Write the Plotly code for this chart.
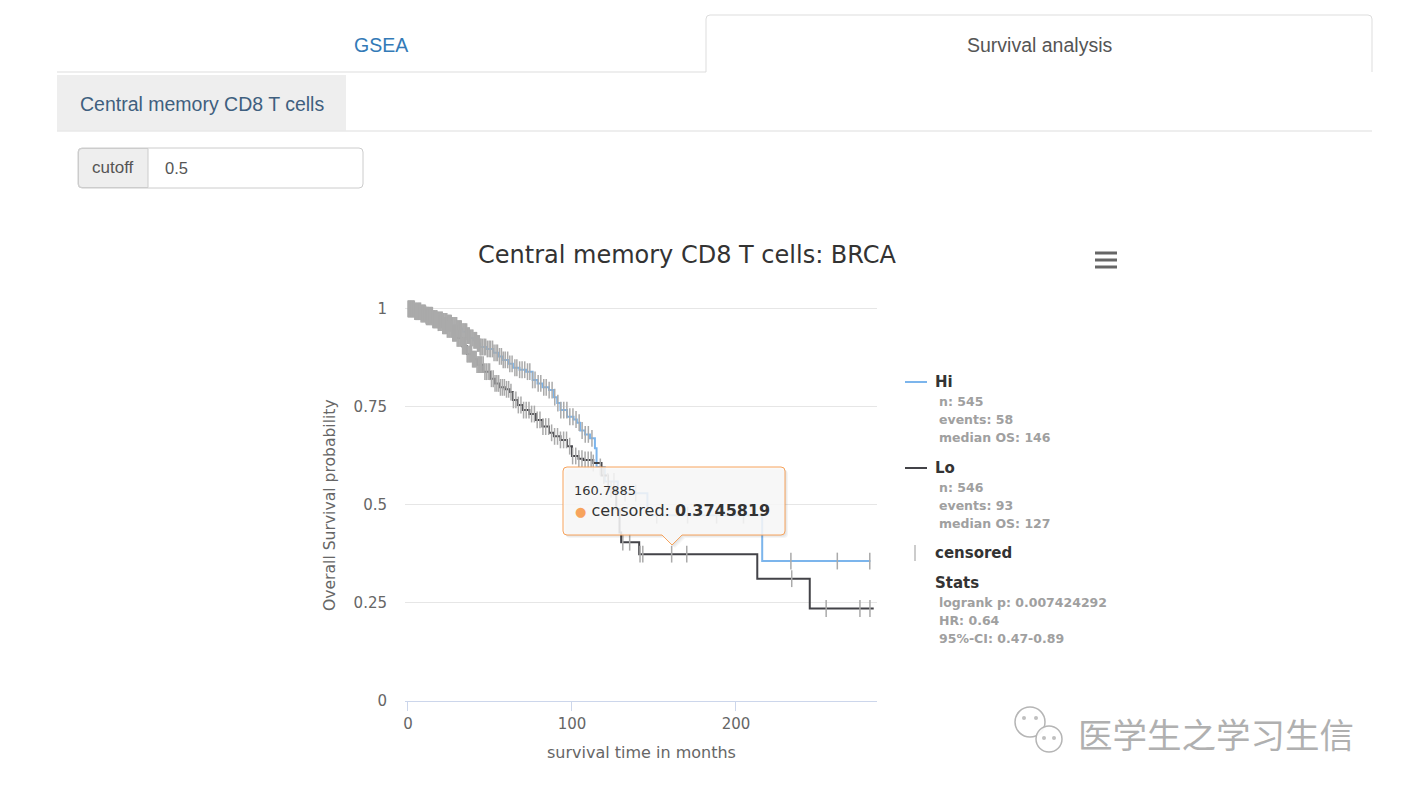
import plotly.graph_objects as go

# ---------------- data ----------------
hi_time = [0, 4, 8, 11, 15, 18, 21, 24, 27, 30, 33, 36, 38, 40, 42, 44, 48, 52, 55, 58, 61, 64,
           68, 72, 76, 79, 82, 86, 89, 91, 93, 97, 101, 103, 105, 108, 111, 114, 115, 120, 128,
           146, 216, 282]
hi_surv = [1.0, 0.995, 0.99, 0.984, 0.976, 0.972, 0.968, 0.964, 0.958, 0.95, 0.942, 0.932, 0.926,
           0.92, 0.912, 0.903, 0.898, 0.888, 0.879, 0.87, 0.86, 0.85, 0.845, 0.84, 0.819, 0.81,
           0.80, 0.793, 0.775, 0.76, 0.742, 0.725, 0.718, 0.71, 0.69, 0.68, 0.67, 0.645, 0.597,
           0.56, 0.53, 0.474, 0.357, 0.357]

lo_time = [0, 4, 8, 11, 15, 18, 21, 24, 27, 30, 33, 36, 39, 42, 46, 50, 53, 56, 59, 62, 64, 67,
           70, 74, 78, 82, 86, 89, 93, 97, 100, 104, 107, 113, 118, 122, 127, 129, 130, 141, 213,
           245, 284]
lo_surv = [1.0, 0.993, 0.987, 0.98, 0.972, 0.965, 0.957, 0.948, 0.938, 0.925, 0.905, 0.885,
           0.872, 0.858, 0.84, 0.822, 0.81, 0.80, 0.795, 0.788, 0.768, 0.755, 0.742, 0.732, 0.717,
           0.70, 0.684, 0.675, 0.666, 0.65, 0.625, 0.618, 0.615, 0.607, 0.575, 0.54, 0.49, 0.43,
           0.405, 0.3745819, 0.312, 0.236, 0.236]

hi_censored_time = [0.1, 0.6, 1.2, 1.7, 2.3, 2.8, 3.3, 3.9, 4.4, 5.0, 5.5, 6.1, 6.6, 7.2, 7.7,
                    8.3, 8.8, 9.4, 9.9, 10.5, 11.0, 11.6, 12.1, 12.7, 13.2, 13.8, 14.3, 14.9,
                    15.4, 16.0, 16.5, 17.1, 17.6, 18.2, 18.7, 19.3, 19.8, 20.4, 20.9, 21.5, 22.0,
                    22.6, 23.1, 23.7, 24.2, 24.8, 25.3, 25.9, 26.4, 27.0, 27.5, 28.1, 28.6, 29.2,
                    29.7, 30.3, 30.8, 31.4, 31.9, 32.5, 33.0, 33.6, 34.1, 34.7, 35.2, 35.8, 36.3,
                    36.9, 37.4, 38.0, 38.5, 39.1, 39.6, 40.2, 40.7, 41.3, 41.8, 42.4, 42.9, 43.5,
                    44.0, 44.6, 45.5, 46.5, 47.4, 48.4, 49.5, 50.4, 51.6, 52.5, 53.7, 54.6, 55.8,
                    57.0, 58.1, 59.3, 60.8, 62.1, 63.5, 65.2, 66.4, 68.1, 69.6, 71.2, 72.9, 74.3,
                    76.0, 77.5, 79.4, 81.0, 82.8, 84.3, 86.1, 87.9, 89.5, 91.4, 93.2, 95.0, 96.9,
                    98.7, 100.6, 102.5, 104.4, 106.2, 108.1, 110.0, 112.2, 117.3, 121.8, 125.6,
                    132.4, 138.9, 151.7, 170.5, 188.2, 204.6, 233.5, 261.8, 281.6]
lo_censored_time = [0.3, 0.9, 1.4, 2.0, 2.5, 3.1, 3.6, 4.2, 4.7, 5.3, 5.8, 6.4, 6.9, 7.5, 8.0,
                    8.6, 9.1, 9.7, 10.2, 10.8, 11.3, 11.9, 12.4, 13.0, 13.5, 14.1, 14.6, 15.2,
                    15.7, 16.3, 16.8, 17.4, 17.9, 18.5, 19.0, 19.6, 20.1, 20.7, 21.2, 21.8, 22.3,
                    22.9, 23.4, 24.0, 24.5, 25.1, 25.6, 26.2, 26.7, 27.3, 27.8, 28.4, 28.9, 29.5,
                    30.0, 30.6, 31.1, 31.7, 32.2, 32.8, 33.3, 33.9, 34.4, 35.0, 35.5, 36.1, 36.6,
                    37.2, 37.7, 38.3, 38.8, 39.4, 39.9, 40.5, 41.0, 41.6, 42.1, 42.7, 43.2, 43.8,
                    44.3, 45.0, 45.9, 46.9, 47.8, 48.9, 49.8, 50.9, 52.0, 53.1, 54.2, 55.3, 56.4,
                    57.6, 58.8, 60.1, 61.4, 62.8, 64.3, 65.8, 67.3, 68.9, 70.5, 72.1, 73.8, 75.4,
                    77.1, 78.8, 80.5, 82.3, 84.0, 85.8, 87.6, 89.4, 91.2, 93.0, 94.9, 96.7, 98.6,
                    100.4, 102.3, 104.2, 106.1, 108.0, 109.9, 111.7, 113.0, 119.4, 123.8, 131.0,
                    135.2, 141.5, 143.2, 160.7885, 170.0, 234.0, 255.0, 275.6, 281.7]

x_ticks = [0, 100, 200]
y_ticks = [0, 0.25, 0.5, 0.75, 1]
y_ticktext = ["0", "0.25", "0.5", "0.75", "1"]

groups = ["Hi", "Lo"]
group_n = [545, 546]
group_events = [58, 93]
group_median = [146, 127]
stats_lines = ["logrank p: 0.007424292", "HR: 0.64", "95%-CI: 0.47-0.89"]

tooltip_x = "160.7885"
tooltip_val = "0.3745819"


def surv_at(times, survs, t):
    v = survs[0]
    for ti, si in zip(times, survs):
        if ti <= t:
            v = si
    return v


cens_x = hi_censored_time + lo_censored_time
cens_y = [surv_at(hi_time, hi_surv, t) for t in hi_censored_time] + \
         [surv_at(lo_time, lo_surv, t) for t in lo_censored_time]

# ---------------- figure ----------------
W, H = 1401, 794


def PX(x):
    return x / W


def PY(y):
    return 1 - y / H


FONT = "DejaVu Sans"
UI = "Liberation Sans"

fig = go.Figure()
fig.add_trace(go.Scatter(x=hi_time, y=hi_surv, mode="lines", name="Hi",
                         line=dict(color="#7cb5ec", width=2, shape="hv")))
fig.add_trace(go.Scatter(x=lo_time, y=lo_surv, mode="lines", name="Lo",
                         line=dict(color="#434348", width=2, shape="hv")))
fig.add_trace(go.Scatter(x=cens_x, y=cens_y, mode="markers", name="censored",
                         marker=dict(symbol="line-ns-open", size=12, color="#aaaaaa",
                                     line=dict(width=1.5, color="#aaaaaa")),
                         cliponaxis=False))

x0p, x1p = 405, 877
y0p, y1p = 701, 307
fig.update_layout(
    width=W, height=H, margin=dict(l=0, r=0, t=0, b=0, autoexpand=False),
    paper_bgcolor="white", plot_bgcolor="white", showlegend=False,
    hovermode=False,
    xaxis=dict(domain=[PX(x0p), PX(x1p)], range=[-1.8, 286], tickvals=x_ticks, automargin=False,
               showgrid=False, zeroline=False, showline=True, linecolor="#ccd6eb", linewidth=1,
               ticks="outside", ticklen=9, tickcolor="#ccd6eb",
               tickfont=dict(family=FONT, size=15, color="#666666")),
    yaxis=dict(domain=[PY(y0p), PY(y1p)], range=[0, 1.005], tickvals=y_ticks, automargin=False,
               ticktext=y_ticktext, showgrid=True, gridcolor="#e6e6e6", zeroline=False,
               showline=False, ticklabelstandoff=17,
               tickfont=dict(family=FONT, size=15, color="#666666")),
)

shapes = []
ann = []


def text(t, x, y, size, color, family=FONT, xanchor="center", angle=0):
    ann.append(dict(text=t, x=PX(x), y=PY(y), xref="paper", yref="paper", showarrow=False,
                    xanchor=xanchor, yanchor="middle", textangle=angle,
                    font=dict(family=family, size=size, color=color)))


def hline(x0, x1, y, color, width):
    shapes.append(dict(type="line", xref="paper", yref="paper", x0=PX(x0), x1=PX(x1), y0=PY(y), y1=PY(y),
                       line=dict(color=color, width=width)))


# ---- page UI (tabs / input) ----
LINE = "#dddddd"
hline(57, 706, 72, LINE, 1)
r = 4
path = (f"M {PX(706)},{PY(72)} L {PX(706)},{PY(15 + r)} Q {PX(706)},{PY(15)} {PX(706 + r)},{PY(15)} "
        f"L {PX(1372 - r)},{PY(15)} Q {PX(1372)},{PY(15)} {PX(1372)},{PY(15 + r)} L {PX(1372)},{PY(72)}")
shapes.append(dict(type="path", xref="paper", yref="paper", path=path, line=dict(color=LINE, width=1)))
text("GSEA", 381, 45, 19.5, "#337ab7", UI)
text("Survival analysis", 1039, 45, 19.5, "#555555", UI)
shapes.append(dict(type="rect", xref="paper", yref="paper", x0=PX(57), x1=PX(346), y0=PY(131), y1=PY(75),
                   fillcolor="#eeeeee", line=dict(width=0), layer="below"))
hline(57, 1372, 131, "#e8e8e8", 1.5)
text("Central memory CD8 T cells", 202, 104, 19.5, "#3f5f7f", UI)


def rrect(x0, y0, x1, y1, rad):
    return (f"M {PX(x0 + rad)},{PY(y0)} L {PX(x1 - rad)},{PY(y0)} Q {PX(x1)},{PY(y0)} {PX(x1)},{PY(y0 + rad)} "
            f"L {PX(x1)},{PY(y1 - rad)} Q {PX(x1)},{PY(y1)} {PX(x1 - rad)},{PY(y1)} "
            f"L {PX(x0 + rad)},{PY(y1)} Q {PX(x0)},{PY(y1)} {PX(x0)},{PY(y1 - rad)} "
            f"L {PX(x0)},{PY(y0 + rad)} Q {PX(x0)},{PY(y0)} {PX(x0 + rad)},{PY(y0)} Z")


shapes.append(dict(type="path", xref="paper", yref="paper", path=rrect(78, 148, 363, 188, 4),
                   fillcolor="white", line=dict(color="#cccccc", width=1), layer="below"))
shapes.append(dict(type="path", xref="paper", yref="paper",
                   path=(f"M {PX(148)},{PY(148.5)} L {PX(82)},{PY(148.5)} Q {PX(78.5)},{PY(148.5)} "
                         f"{PX(78.5)},{PY(152)} L {PX(78.5)},{PY(184)} Q {PX(78.5)},{PY(187.5)} "
                         f"{PX(82)},{PY(187.5)} L {PX(148)},{PY(187.5)} Z"),
                   fillcolor="#eeeeee", line=dict(color="#cccccc", width=1)))
text("cutoff", 113, 167, 17, "#555555", UI)
text("0.5", 163, 168, 16.5, "#555555", UI, xanchor="left")

# ---- chart title, axis titles ----
text("Central memory CD8 T cells: BRCA", 687, 255, 24, "#333333")
text("survival time in months", 641, 752, 16, "#666666")
text("Overall Survival probability", 330, 505, 15.6, "#666666", angle=-90)

# hamburger menu
for yy in (253, 260, 267):
    hline(1095, 1117, yy, "#666666", 3)

# ---- legend ----
colors = ["#7cb5ec", "#434348"]
leg_y = [382, 468]
for g, c, ly, n, ev, med in zip(groups, colors, leg_y, group_n, group_events, group_median):
    hline(905, 927, ly, c, 2)
    text(f"<b>{g}</b>", 933, ly, 15, "#333333", xanchor="left")
    for k, t in enumerate([f"n: {n}", f"events: {ev}", f"median OS: {med}"]):
        text(f"<b>{t}</b>", 937, ly + 19 + 18 * k, 12.5, "#a0a0a0", xanchor="left")
shapes.append(dict(type="line", xref="paper", yref="paper", x0=PX(915), x1=PX(915), y0=PY(545), y1=PY(561),
                   line=dict(color="#bbbbbb", width=1.5)))
text("<b>censored</b>", 933, 553, 15, "#333333", xanchor="left")
text("<b>Stats</b>", 933, 583, 15, "#333333", xanchor="left")
for k, t in enumerate(stats_lines):
    text(f"<b>{t}</b>", 937, 602 + 18 * k, 12.5, "#a0a0a0", xanchor="left")

# ---- tooltip ----
tx0, tx1, ty0, ty1, tr = 563, 785, 467, 535, 4
tipx = 672


def tip_path(dx=0, dy=0):
    a0, a1, b0, b1 = tx0 + dx, tx1 + dx, ty0 + dy, ty1 + dy
    t = tipx + dx
    return (f"M {PX(a0 + tr)},{PY(b0)} L {PX(a1 - tr)},{PY(b0)} Q {PX(a1)},{PY(b0)} {PX(a1)},{PY(b0 + tr)} "
            f"L {PX(a1)},{PY(b1 - tr)} Q {PX(a1)},{PY(b1)} {PX(a1 - tr)},{PY(b1)} "
            f"L {PX(t + 10)},{PY(b1)} L {PX(t)},{PY(b1 + 10)} L {PX(t - 10)},{PY(b1)} "
            f"L {PX(a0 + tr)},{PY(b1)} Q {PX(a0)},{PY(b1)} {PX(a0)},{PY(b1 - tr)} "
            f"L {PX(a0)},{PY(b0 + tr)} Q {PX(a0)},{PY(b0)} {PX(a0 + tr)},{PY(b0)} Z")


for s in (3, 2, 1):
    shapes.append(dict(type="path", xref="paper", yref="paper", path=tip_path(s, s),
                       fillcolor="rgba(0,0,0,0.04)", line=dict(width=0), layer="above"))
shapes.append(dict(type="path", xref="paper", yref="paper", path=tip_path(),
                   fillcolor="rgba(250,250,250,0.86)", line=dict(color="#f7a35c", width=1), layer="above"))
text(tooltip_x, 572, 490, 13, "#333333", xanchor="left")
text(f"<span style='color:#f7a35c;font-size:13px'>●</span> censored: <b>{tooltip_val}</b>", 573, 510, 16,
     "#333333", xanchor="left")

# ---- watermark ----
for cx, cy, rr in ((1030, 722, 15), (1049, 739, 13)):
    shapes.append(dict(type="circle", xref="paper", yref="paper", x0=PX(cx - rr), x1=PX(cx + rr),
                       y0=PY(cy + rr), y1=PY(cy - rr), fillcolor="rgba(255,255,255,0.9)",
                       line=dict(color="#b5b5b5", width=1.5)))
for cx, cy in ((1024, 718), (1036, 718), (1044, 738), (1054, 738)):
    shapes.append(dict(type="circle", xref="paper", yref="paper", x0=PX(cx - 2), x1=PX(cx + 2),
                       y0=PY(cy + 2), y1=PY(cy - 2), fillcolor="#c0c0c0", line=dict(width=0)))
text("医学生之学习生信", 1216, 733, 34.5, "#b0b0b0", "Noto Sans CJK SC")

fig.update_layout(shapes=shapes, annotations=ann)
post = ("document.documentElement.style.margin='0';document.body.style.margin='0';"
        "document.documentElement.style.overflow='hidden';document.body.style.overflow='hidden';"
        "var d=document.getElementsByClassName('plotly-graph-div')[0];"
        "d.style.position='fixed';d.style.left='0px';d.style.top='0px';")
fig.write_html("out.html", config={"displayModeBar": False}, post_script=post)
